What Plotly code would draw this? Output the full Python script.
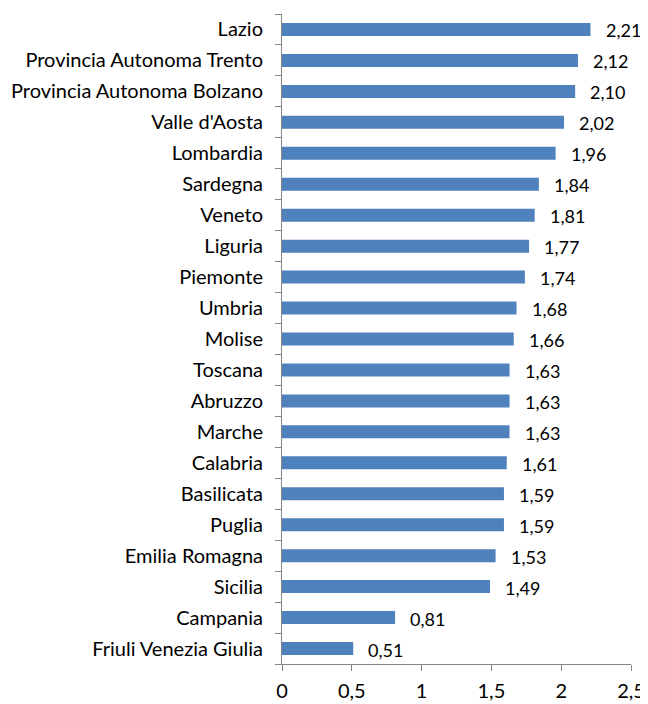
import plotly.graph_objects as go

regions = ["Lazio", "Provincia Autonoma Trento", "Provincia Autonoma Bolzano", "Valle d'Aosta",
           "Lombardia", "Sardegna", "Veneto", "Liguria", "Piemonte", "Umbria", "Molise",
           "Toscana", "Abruzzo", "Marche", "Calabria", "Basilicata", "Puglia",
           "Emilia Romagna", "Sicilia", "Campania", "Friuli Venezia Giulia"]
values = [2.21, 2.12, 2.10, 2.02, 1.96, 1.84, 1.81, 1.77, 1.74, 1.68, 1.66,
          1.63, 1.63, 1.63, 1.61, 1.59, 1.59, 1.53, 1.49, 0.81, 0.51]
x_ticks = [0, 0.5, 1, 1.5, 2, 2.5]
x_tick_labels = ["0", "0,5", "1", "1,5", "2", "2,5"]

FONT = "Lato"
fig = go.Figure()
fig.add_trace(go.Bar(
    y=regions, x=values, orientation="h",
    marker=dict(color="#4F81BD", line=dict(width=0)),
    hoverinfo="skip",
))
for r, v in zip(regions, values):
    fig.add_annotation(x=v, y=r, text=f"{v:.2f}".replace(".", ","), showarrow=False,
                       xanchor="left", xshift=13, yshift=-1,
                       font=dict(family=FONT, size=18, color="#000"))

fig.update_layout(
    width=640, height=696,
    margin=dict(l=274, r=17, t=6, b=40),
    plot_bgcolor="white", paper_bgcolor="white",
    showlegend=False, bargap=0.58,
    font=dict(family=FONT, size=20, color="#000"),
)
fig.update_yaxes(
    automargin=False,
    categoryorder="array", categoryarray=regions[::-1],
    showline=True, linecolor="#868686", linewidth=1,
    ticks="outside", ticklen=6, tickcolor="#868686",
    tickson="boundaries", showgrid=False, ticklabelstandoff=14,
    tickfont=dict(family=FONT, size=20, color="#000"),
)
fig.update_xaxes(
    automargin=False,
    range=[0, 2.5], tickvals=x_ticks, ticktext=x_tick_labels,
    showline=True, linecolor="#868686", linewidth=1,
    ticks="outside", ticklen=6, tickcolor="#868686",
    showgrid=False, zeroline=False, ticklabelstandoff=3,
    tickfont=dict(family=FONT, size=20, color="#000"),
)
fig.write_html("out.html")
